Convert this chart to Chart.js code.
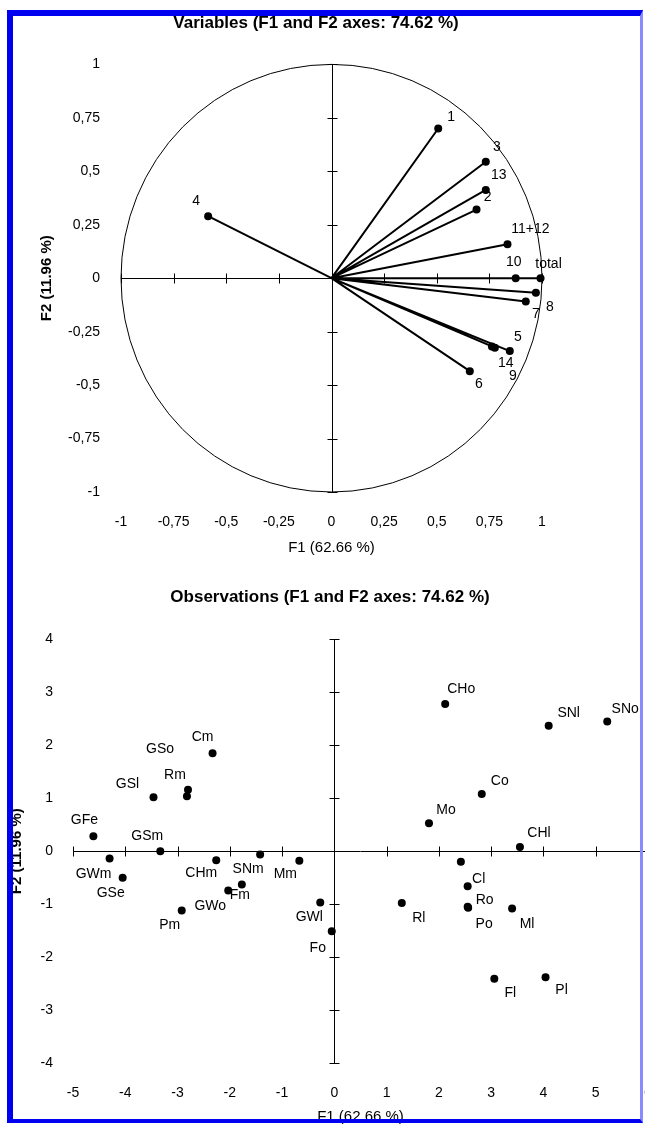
<!DOCTYPE html>
<html>
<head>
<meta charset="utf-8">
<script src="https://cdn.jsdelivr.net/npm/chart.js@4.4.0/dist/chart.umd.min.js"></script>
<style>
html, body { margin: 0; padding: 0; background: #fff; width: 645px; height: 1126px; overflow: hidden; }
#topBox { position: absolute; left: 0; top: 0; width: 632px; height: 570px; }
#bottomBox { position: absolute; left: 0; top: 570px; width: 660px; height: 556px; }
#frame {
    position: absolute; left: 7px; top: 10px; width: 636px; height: 1113px; box-sizing: border-box;
    border-left: 6px solid #0000f0; border-top: 6px solid #0000f0;
    border-right: 3px solid #8a8aff; border-bottom: 4px solid #0000f0;
    pointer-events: none;
}
</style>
</head>
<body>
<div id="topBox"><canvas id="topChart" width="632" height="570"></canvas></div>
<div id="bottomBox"><canvas id="bottomChart" width="660" height="556"></canvas></div>
<div id="frame"></div>
<script>
// variables (correlation circle)
const varNames = ['1', '2', '3', '4', '5', '6', '7', '8', '9', '10', '11+12', '13', '14', 'total'];
const varF1 = [0.507, 0.689, 0.733, -0.586, 0.847, 0.657, 0.923, 0.971, 0.762, 0.875, 0.836, 0.733, 0.776, 0.993];
const varF2 = [0.700, 0.321, 0.545, 0.290, -0.341, -0.435, -0.109, -0.068, -0.319, 0.000, 0.159, 0.413, -0.325, 0.000];
const corrTicks = [-1, -0.75, -0.5, -0.25, 0, 0.25, 0.5, 0.75, 1];

// observations
const obsNames = ['CHo', 'SNl', 'SNo', 'Co', 'Mo', 'CHl', '', 'Cl', 'Ro', 'Po', 'Rl', 'Ml', 'Fl', 'Pl', 'Fo',
    'GWl', 'Mm', 'SNm', 'CHm', 'Fm', 'GWo', 'Pm', 'GSe', 'GWm', 'GFe', 'GSm', 'GSl', 'Rm', 'GSo', 'Cm'];
const obsF1 = [2.12, 4.10, 5.22, 2.82, 1.81, 3.55, 2.42, 2.55, 2.55, 2.56, 1.29, 3.40, 3.06, 4.04, -0.05,
    -0.27, -0.67, -1.42, -2.26, -1.77, -2.03, -2.92, -4.05, -4.30, -4.61, -3.33, -3.46, -2.82, -2.80, -2.33];
const obsF2 = [2.78, 2.37, 2.45, 1.08, 0.53, 0.08, -0.20, -0.66, -1.05, -1.07, -0.98, -1.08, -2.41, -2.38, -1.51,
    -0.97, -0.18, -0.06, -0.17, -0.63, -0.74, -1.12, -0.50, -0.14, 0.28, 0.00, 1.02, 1.04, 1.16, 1.85];
const obsXTicks = [-5, -4, -3, -2, -1, 0, 1, 2, 3, 4, 5, 6];
const obsYTicks = [-4, -3, -2, -1, 0, 1, 2, 3, 4];

// label placement (pixel offset of label centre from its point)
const varLabelPos = {
    '1': [13, -11], '2': [11, -12], '3': [11, -15], '4': [-12, -15], '5': [8, -14], '6': [9, 13],
    '7': [10, 13], '8': [14, 14], '9': [21, 30], '10': [-2, -16], '11+12': [23, -15], '13': [13, -15],
    '14': [11, 15], 'total': [8, -14]
};
const obsLabelPos = {
    CHo: [16, -15], SNl: [20, -13], SNo: [18, -12], Co: [18, -13], Mo: [17, -13], CHl: [19, -14],
    Cl: [11, -7], Ro: [17, -7], Po: [16, 16], Rl: [17, 15], Ml: [15, 16], Fl: [16, 14], Pl: [16, 13],
    Fo: [-14, 17], GWl: [-11, 15], Mm: [-14, 13], SNm: [-12, 15], CHm: [-15, 13], Fm: [-2, 11],
    GWo: [-18, 16], Pm: [-12, 15], GSe: [-12, 15], GWm: [-16, 16], GFe: [-9, -16], GSm: [-13, -15],
    GSl: [-26, -13], Rm: [-12, -21], GSo: [-28, -41], Cm: [-10, -16]
};

const FONT = '"Liberation Sans", Arial, sans-serif';
Chart.defaults.font.family = FONT;
Chart.defaults.color = '#000';

const fmt = v => String(v).replace('.', ',');

const crossAxes = {
    id: 'crossAxes',
    beforeDatasetsDraw(chart, args, opts) {
        const {ctx, scales: {x, y}} = chart;
        const x0 = Math.round(x.getPixelForValue(0)) + 0.5;
        const y0 = Math.round(y.getPixelForValue(0)) + 0.5;
        ctx.save();
        ctx.strokeStyle = '#000';
        ctx.lineWidth = 1;
        ctx.beginPath();
        ctx.moveTo(x.getPixelForValue(x.min), y0);
        ctx.lineTo(x.getPixelForValue(x.max), y0);
        ctx.moveTo(x0, y.getPixelForValue(y.max));
        ctx.lineTo(x0, y.getPixelForValue(y.min));
        x.ticks.forEach(t => {
            const px = Math.round(x.getPixelForValue(t.value)) + 0.5;
            ctx.moveTo(px, y0 - 5); ctx.lineTo(px, y0 + 5);
        });
        y.ticks.forEach(t => {
            const py = Math.round(y.getPixelForValue(t.value)) + 0.5;
            ctx.moveTo(x0 - 5, py); ctx.lineTo(x0 + 5, py);
        });
        ctx.stroke();
        if (opts.circle) {
            const rx = x.getPixelForValue(1) - x.getPixelForValue(0);
            const ry = y.getPixelForValue(0) - y.getPixelForValue(1);
            ctx.beginPath();
            ctx.ellipse(x.getPixelForValue(0), y.getPixelForValue(0), rx, ry, 0, 0, Math.PI * 2);
            ctx.stroke();
        }
        if (opts.vectors) {
            const meta = chart.getDatasetMeta(0);
            ctx.lineWidth = 2;
            ctx.beginPath();
            meta.data.forEach(p => {
                ctx.moveTo(x.getPixelForValue(0), y.getPixelForValue(0));
                ctx.lineTo(p.x, p.y);
            });
            ctx.stroke();
        }
        ctx.restore();
    },
    afterDatasetsDraw(chart, args, opts) {
        const {ctx} = chart;
        const meta = chart.getDatasetMeta(0);
        ctx.save();
        ctx.fillStyle = '#000';
        ctx.font = '14px ' + FONT;
        ctx.textAlign = 'center';
        ctx.textBaseline = 'middle';
        meta.data.forEach((p, i) => {
            const name = opts.names[i];
            if (!name) return;
            const off = opts.pos[name] || [10, -12];
            ctx.fillText(name, p.x + off[0], p.y + off[1]);
        });
        ctx.restore();
    }
};

function makeChart(id, cfg) {
    return new Chart(document.getElementById(id), {
        type: 'scatter',
        data: {
            datasets: [{
                data: cfg.xs.map((v, i) => ({x: v, y: cfg.ys[i]})),
                pointRadius: 4,
                pointBackgroundColor: '#000',
                pointBorderColor: '#000',
                pointBorderWidth: 0,
                clip: false
            }]
        },
        options: {
            responsive: false,
            animation: false,
            layout: {padding: 0},
            plugins: {
                legend: {display: false},
                tooltip: {enabled: false},
                title: {
                    display: true,
                    text: cfg.title,
                    font: {size: 17, weight: 'bold'},
                    padding: cfg.titlePad
                },
                crossAxes: {circle: cfg.circle, vectors: cfg.vectors, names: cfg.names, pos: cfg.pos}
            },
            scales: {
                x: {
                    type: 'linear', position: 'bottom', min: cfg.xMin, max: cfg.xMax,
                    afterBuildTicks: s => { s.ticks = cfg.xTicks.map(v => ({value: v})); },
                    afterFit: s => { s.height = cfg.xHeight; s.paddingLeft = 0; s.paddingRight = 0; },
                    grid: {display: false, drawTicks: false},
                    border: {display: false},
                    ticks: {font: {size: 14}, padding: cfg.xTickPad, callback: fmt, autoSkip: false, maxRotation: 0},
                    title: {display: true, text: 'F1 (62.66 %)', font: {size: 15}, padding: {top: 0, bottom: cfg.xTitleBottom}}
                },
                y: {
                    type: 'linear', position: 'left', min: cfg.yMin, max: cfg.yMax,
                    afterBuildTicks: s => { s.ticks = cfg.yTicks.map(v => ({value: v})); },
                    afterFit: s => { s.width = cfg.yWidth; },
                    grid: {display: false, drawTicks: false},
                    border: {display: false},
                    ticks: {font: {size: 14}, padding: cfg.yTickPad, callback: fmt, autoSkip: false},
                    title: {display: true, text: 'F2 (11.96 %)', font: {size: 15, weight: 'bold'}, padding: {top: cfg.yTitleLeft, bottom: 0}}
                },
                pad: {
                    type: 'linear', position: 'right', display: true,
                    grid: {display: false, drawTicks: false}, border: {display: false}, ticks: {display: false},
                    afterFit: s => { s.width = cfg.rightPad; }
                }
            }
        },
        plugins: [crossAxes]
    });
}

makeChart('topChart', {
    xs: varF1, ys: varF2, names: varNames, pos: varLabelPos,
    title: 'Variables (F1 and F2 axes: 74.62 %)', titlePad: {top: 13, bottom: 31},
    xMin: -1, xMax: 1, yMin: -1, yMax: 1, xTicks: corrTicks, yTicks: corrTicks,
    xHeight: 78, xTickPad: 22, xTitleBottom: 13,
    yWidth: 121, yTickPad: 21, yTitleLeft: 38, rightPad: 90,
    circle: true, vectors: true
});

makeChart('bottomChart', {
    xs: obsF1, ys: obsF2, names: obsNames, pos: obsLabelPos,
    title: 'Observations (F1 and F2 axes: 74.62 %)', titlePad: {top: 17, bottom: 32},
    xMin: -5, xMax: 6, yMin: -4, yMax: 4, xTicks: obsXTicks, yTicks: obsYTicks,
    xHeight: 63, xTickPad: 22, xTitleBottom: 0,
    yWidth: 73, yTickPad: 20, yTitleLeft: 8, rightPad: 12,
    circle: false, vectors: false
});
</script>
</body>
</html>
